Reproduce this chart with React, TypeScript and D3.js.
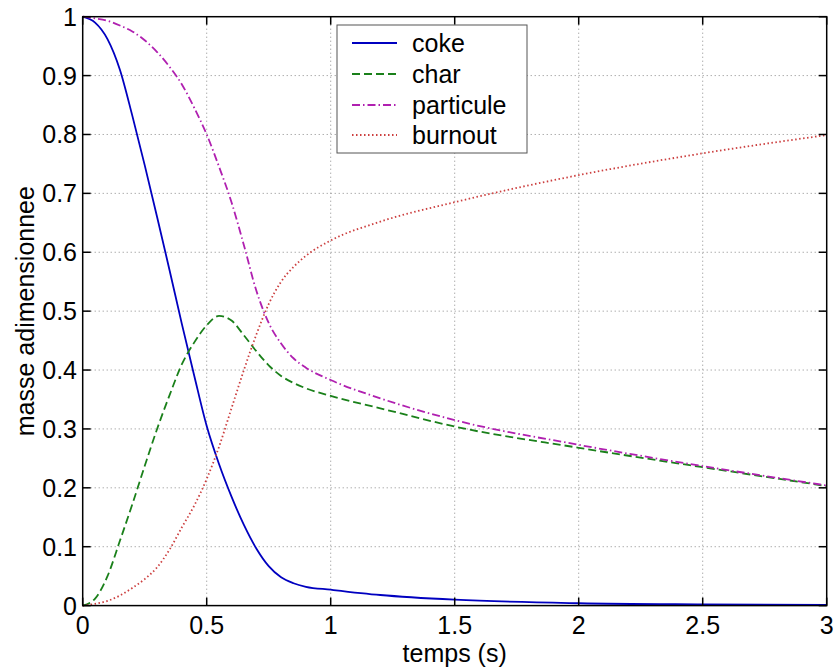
import React from "react";
import * as d3 from "d3";

const times = [0, 0.05, 0.1, 0.15, 0.2, 0.25, 0.3, 0.35, 0.4, 0.45, 0.5, 0.55, 0.6, 0.65, 0.7, 0.75, 0.8, 0.85, 0.9, 1.0, 1.2, 1.5, 2.0, 2.5, 3.0];
const coke = [1.0, 0.99, 0.962, 0.91, 0.832, 0.748, 0.66, 0.57, 0.478, 0.39, 0.305, 0.24, 0.185, 0.137, 0.097, 0.067, 0.048, 0.038, 0.032, 0.027, 0.018, 0.01, 0.004, 0.002, 0.001];
const charV = [0, 0.012, 0.05, 0.11, 0.172, 0.237, 0.30, 0.357, 0.41, 0.447, 0.476, 0.492, 0.484, 0.459, 0.432, 0.408, 0.39, 0.378, 0.369, 0.356, 0.335, 0.304, 0.268, 0.235, 0.203];
const particule = [1.0, 0.997, 0.993, 0.985, 0.975, 0.96, 0.94, 0.915, 0.885, 0.845, 0.80, 0.745, 0.685, 0.612, 0.535, 0.48, 0.445, 0.42, 0.404, 0.383, 0.352, 0.315, 0.273, 0.237, 0.204];
const burnout = [0, 0.003, 0.008, 0.017, 0.03, 0.045, 0.065, 0.095, 0.133, 0.17, 0.215, 0.27, 0.335, 0.40, 0.46, 0.512, 0.55, 0.575, 0.594, 0.62, 0.652, 0.685, 0.731, 0.768, 0.799];

const seriesNames = ["coke", "char", "particule", "burnout"];
const seriesValues = [coke, charV, particule, burnout];
const seriesColors = ["#0000c0", "#1a801a", "#b020b0", "#cc3f3f"];
const seriesDash = ["none", "8,4", "8,3,1.5,3", "1.5,2.5"];

const xTicks = [0, 0.5, 1, 1.5, 2, 2.5, 3];
const yTicks = [0, 0.1, 0.2, 0.3, 0.4, 0.5, 0.6, 0.7, 0.8, 0.9, 1];

const FONT = "'Liberation Sans', Arial, Helvetica, sans-serif";

export default function App() {
  const left = 82.7, right = 826.7, top = 16.7, bottom = 605.6;
  const x = d3.scaleLinear().domain([0, 3]).range([left, right]);
  const y = d3.scaleLinear().domain([0, 1]).range([bottom, top]);
  const line = (vals: number[]) =>
    d3
      .line<number>()
      .x((_, i) => x(times[i]))
      .y((d) => y(d))
      .curve(d3.curveMonotoneX)(vals) || "";
  const tickLen = 8;
  const fs = 25;
  const legX = 337, legY = 25, legW = 190, legH = 128;
  const rowY = [43, 74, 105, 135];

  return (
    <svg width={835} height={670} style={{ position: "absolute", left: 0, top: 0, background: "#fff" }} fontFamily={FONT}>
      <rect x={0} y={0} width={835} height={670} fill="#fff" />
      <g stroke="#8a8a8a" strokeWidth={1} strokeDasharray="1,3">
        {xTicks.slice(1, -1).map((t) => (
          <line key={"gx" + t} x1={x(t)} x2={x(t)} y1={top} y2={bottom} />
        ))}
        {yTicks.slice(1, -1).map((t) => (
          <line key={"gy" + t} x1={left} x2={right} y1={y(t)} y2={y(t)} />
        ))}
      </g>
      <g fill="none" strokeWidth={1.8}>
        {seriesValues.map((vals, i) => (
          <path key={seriesNames[i]} d={line(vals)} stroke={seriesColors[i]} strokeDasharray={seriesDash[i]} />
        ))}
      </g>
      <g stroke="#000" strokeWidth={1.5}>
        <rect x={left} y={top} width={right - left} height={bottom - top} fill="none" />
        {xTicks.map((t) => (
          <g key={"tx" + t}>
            <line x1={x(t)} x2={x(t)} y1={bottom} y2={bottom - tickLen} />
            <line x1={x(t)} x2={x(t)} y1={top} y2={top + tickLen} />
          </g>
        ))}
        {yTicks.map((t) => (
          <g key={"ty" + t}>
            <line x1={left} x2={left + tickLen} y1={y(t)} y2={y(t)} />
            <line x1={right} x2={right - tickLen} y1={y(t)} y2={y(t)} />
          </g>
        ))}
      </g>
      <g fontSize={fs} fill="#000">
        {xTicks.map((t) => (
          <text key={"lx" + t} x={x(t)} y={634} textAnchor="middle">
            {String(t)}
          </text>
        ))}
        {yTicks.map((t) => (
          <text key={"ly" + t} x={77} y={y(t)} dy="0.36em" textAnchor="end">
            {String(t)}
          </text>
        ))}
      </g>
      <text x={(left + right) / 2} y={662} textAnchor="middle" fontSize={fs}>
        temps (s)
      </text>
      <text transform={`translate(34,${(top + bottom) / 2}) rotate(-90)`} textAnchor="middle" fontSize={fs}>
        masse adimensionnee
      </text>
      <rect x={legX} y={legY} width={legW} height={legH} fill="#fff" stroke="#555" strokeWidth={1} />
      {seriesNames.map((n, i) => (
        <g key={"leg" + n}>
          <line x1={352} x2={397} y1={rowY[i]} y2={rowY[i]} stroke={seriesColors[i]} strokeWidth={1.8} strokeDasharray={seriesDash[i]} />
          <text x={412} y={rowY[i]} dy="0.36em" fontSize={fs}>
            {n}
          </text>
        </g>
      ))}
    </svg>
  );
}
